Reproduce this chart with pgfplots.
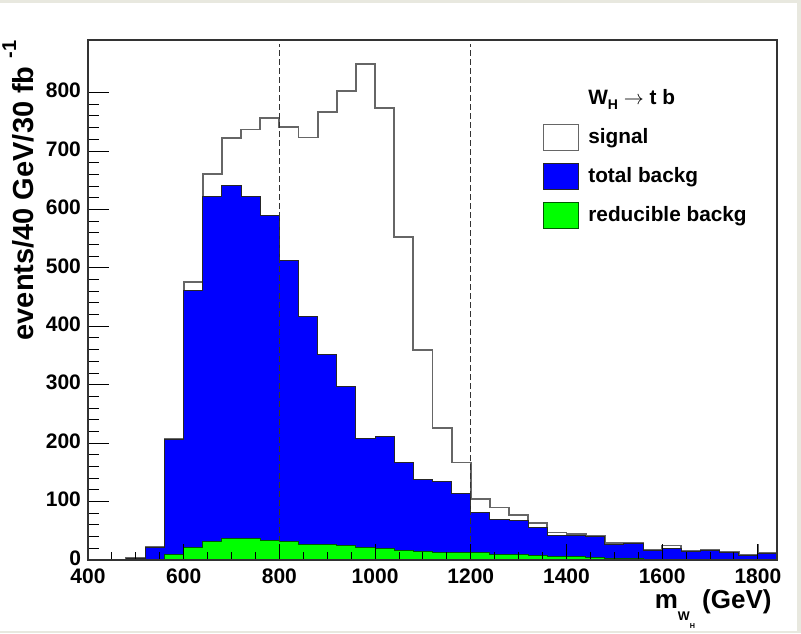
\documentclass[border=0pt]{standalone}
\usepackage{pgfplots}
\pgfplotsset{compat=1.18}
\usepackage{pgfplotstable}
\usepackage{fontspec}
\setmainfont{Liberation Sans}
\definecolor{bgc}{HTML}{E8E8DF}
\definecolor{rootblue}{HTML}{0000FF}
\definecolor{rootgreen}{HTML}{00FF00}

% bin left edges (40 GeV bins), signal, total background, reducible background
\pgfplotstableread{
x    S    B    R
400  0    0    0
440  0    0    0
480  3    3    0.5
520  22   22   1.5
560  207  207  9
600  476  461  21
640  660  623  32
680  722  641  37
720  737  623  37
760  756  590  33
800  741  512  32
840  723  416  26
880  767  352  26
920  803  297  24
960  849  208  21
1000 774  211  20
1040 553  167  17
1080 360  138  15
1120 226  134  12.5
1160 167  114  12.5
1200 105  82   12.5
1240 90   70   9
1280 77   67   9
1320 63   55   7
1360 47   42   6
1400 45   42   6
1440 42   40   4
1480 29   26   2
1520 30   29   2
1560 17   17   1.5
1600 25   20   1.5
1640 15   14   1.5
1680 18   17   1.5
1720 14   13   1
1760 9    7.5  1
1800 11.5 11.5 1
1840 11.5 11.5 1
}\hist

\begin{document}
\begin{tikzpicture}
\fill[bgc] (-44pt,-36.5pt) rectangle (356.5pt,280pt);
\fill[white] (-44pt,-35.5pt) rectangle (354.5pt,278.5pt);
\begin{axis}[
  at={(0pt,0pt)}, anchor=south west,
  scale only axis, width=344.5pt, height=260pt,
  xmin=400, xmax=1840, ymin=0, ymax=890,
  axis on top,
  axis line style={black!80, line width=0.8pt},
  tick style={black, line width=0.5pt},
  tick align=inside,
  xtick pos=left, ytick pos=left,
  major tick length=10.5pt, minor tick length=5.5pt,
  xtick style={/pgfplots/major tick length=7.8pt, /pgfplots/minor tick length=4pt},
  xtick={400,600,...,1800}, minor x tick num=3,
  ytick={0,100,...,800}, minor y tick num=4,
  /pgf/number format/assume math mode=true,
  /pgf/number format/1000 sep={},
  ticklabel style={font=\bfseries\fontsize{10.5}{12}\selectfont},
  x tick label style={yshift=-1pt},
  y tick label style={yshift=1pt},
  xlabel={m\raisebox{-6pt}{\fontsize{6.3}{7}\selectfont W\raisebox{-4pt}{\fontsize{3.6}{4}\selectfont H}} (GeV)},
  xlabel style={at={(axis description cs:0.9927,-0.0935)}, anchor=base east, inner sep=0pt,
    font=\bfseries\fontsize{13}{15}\selectfont},
  ylabel={events/40 GeV/30 fb~\raisebox{1.1ex}{\fontsize{10}{12}\selectfont -1}},
  ylabel style={at={(axis description cs:-0.0798,1)}, anchor=base east, inner sep=0pt,
    font=\bfseries\fontsize{14.5}{17}\selectfont},
  legend image code/.code={\draw[#1,/tikz/.cd,line width=0.6pt] (0pt,-6.5pt) rectangle (17.5pt,6.5pt);},
  legend cell align=left,
  legend style={draw=none, fill=none, at={(axis description cs:0.660,0.916)}, anchor=north west,
    inner sep=0pt, row sep=5pt, font=\bfseries\fontsize{10.4}{12}\selectfont,
    nodes={inner sep=2pt, text height=8pt, text depth=2.5pt},
    /tikz/every odd column/.append style={column sep=2.5pt}},
]
\addlegendimage{empty legend}
\addlegendentry{W\raisebox{-0.45ex}{\fontsize{7}{8}\selectfont H} $\rightarrow$ t b}

\addplot[const plot, draw=black!60, line width=0.9pt, fill=white] table[x=x,y=S]{\hist} \closedcycle;
\addlegendentry{signal}
\addplot[const plot, draw=black!85, line width=0.5pt, fill=rootblue] table[x=x,y=B]{\hist} \closedcycle;
\addlegendentry{total backg}
\addplot[const plot, draw=green!35!black, line width=0.5pt, fill=rootgreen] table[x=x,y=R]{\hist} \closedcycle;
\addlegendentry{reducible backg}

\addplot[black!60, line width=0.9pt, forget plot] coordinates {(1800,11.5) (1800,28)};
\addplot[black!80, line width=0.6pt, dash pattern=on 3pt off 1.5pt, forget plot] coordinates {(800,0) (800,884)};
\addplot[black!80, line width=0.6pt, dash pattern=on 3pt off 1.5pt, forget plot] coordinates {(1200,0) (1200,884)};
\end{axis}
\end{tikzpicture}
\end{document}
